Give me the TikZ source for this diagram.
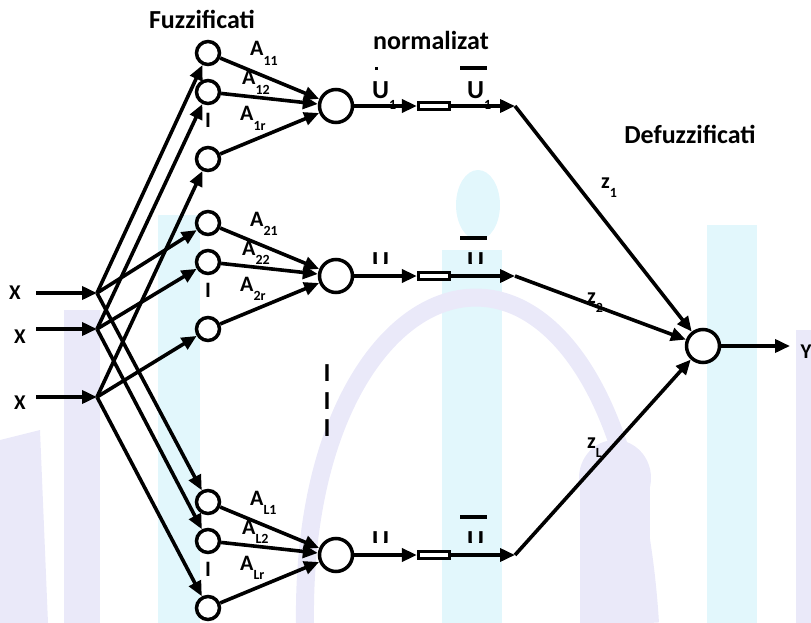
\documentclass[tikz,border=0pt]{standalone}
\usepackage{fontspec}
\setmainfont{Carlito}
\usetikzlibrary{arrows.meta}
\definecolor{wmcyan}{HTML}{E2F7FC}
\definecolor{wmlilac}{HTML}{EAE9F9}
% letter with a low, small index
\newcommand{\lowsub}[3][0.42em]{#2\raisebox{-#1}{\fontsize{14}{14}\selectfont #3}}
\tikzset{
  arr/.style={line width=3.6pt, -{Triangle[length=15pt,width=13pt]}},
  fuzzy/.style={circle, draw, line width=3.5pt, fill=white, minimum size=23pt, inner sep=0pt},
  prodnode/.style={circle, draw, line width=3.5pt, fill=white, minimum size=33pt, inner sep=0pt},
  normbox/.style={rectangle, draw, line width=3.2pt, fill=white, minimum width=31pt, minimum height=7pt, inner sep=0pt},
  heading/.style={font=\fontsize{26}{30}\selectfont\bfseries, inner sep=0pt},
  wlabel/.style={font=\fontsize{22}{26}\selectfont\bfseries, inner sep=0pt, anchor=base west},
  ulabel/.style={font=\fontsize{26}{30}\selectfont\bfseries, inner sep=0pt, anchor=base west},
  dotsmark/.style={font=\fontsize{22}{26}\selectfont\bfseries, inner sep=0pt},
  iolabel/.style={font=\fontsize{21}{25}\selectfont\bfseries, inner sep=0pt},
}
\begin{document}
\begin{tikzpicture}[x=1pt,y=-1pt]
\useasboundingbox (0,0) rectangle (811,623);

% faint backdrop
\fill[wmlilac] (0,440) -- (40,430) -- (48,623) -- (0,623) -- cycle;
\fill[wmlilac] (64,310) rectangle (100,623);
\fill[wmcyan] (158,215) rectangle (200,623);
\fill[wmcyan] (478,205) ellipse (22pt and 35pt);
\fill[wmcyan] (442,250) rectangle (502,623);
\draw[wmlilac, line width=18pt] (305,623) .. controls (300,230) and (620,150) .. (650,623);
\fill[wmlilac] (615,478) ellipse (36pt and 38pt);
\fill[wmlilac] (580,480) rectangle (650,623);
\fill[wmcyan] (707,225) rectangle (757,623);
\fill[wmlilac] (796,330) rectangle (811,623);

% headings
\node[heading] (fuzhead) at (202,19) {Fuzzificati};
\node[heading] (normhead) at (431,40) {normalizat};
\node[heading] (defhead) at (690,134) {Defuzzificati};

% U labels of the first rule
\fill (374.5,67.5) rectangle (377.5,70.5);
\node[ulabel] (u1) at (372,99) {\lowsub[0.42em]{U}{1}};
\node[ulabel] (ubar1) at (467,99) {\lowsub[0.42em]{U}{1}};

% U labels of the other rules, cut off at the top
\foreach \y in {276,555} {
  \begin{scope}
    \clip (360,\y-32) rectangle (500,\y-13);
    \node[ulabel] at (372,\y-7) {U};
    \node[ulabel] at (467,\y-7) {U};
  \end{scope}
}

% inputs
\foreach \i/\y/\lx/\ly in {1/293/15/293, 2/329/20/337, 3/397/20/403} {
  \node[iolabel] (x\i) at (\lx,\ly) {X};
  \coordinate (in\i) at (36,\y);
  \coordinate (b\i) at (97,\y);
  \draw[arr] (in\i) -- (b\i);
}

% rules: membership nodes, product, normalisation
\foreach \g/\y/\ix in {1/106/1, 2/276/2, 3/555/L} {
  \node[fuzzy] (f\g1) at (208,\y-53) {};
  \node[fuzzy] (f\g2) at (208,\y-14) {};
  \node[fuzzy] (f\g3) at (208,\y+53) {};
  \node[dotsmark] at (208,\y+14) {I};
  \node[prodnode] (p\g) at (336,\y) {};
  \node[normbox] (n\g) at (434,\y) {};
  \coordinate (e\g) at (515,\y);
  \node[wlabel] at (250,\y-50) {\lowsub{A}{\ix1}};
  \node[wlabel] at (242,\y-21) {\lowsub{A}{\ix2}};
  \node[wlabel] at (240,\y+15) {\lowsub{A}{\ix r}};
  \draw[arr] (f\g1) -- (p\g);
  \draw[arr] (f\g2) -- (p\g);
  \draw[arr] (f\g3) -- (p\g);
  \draw[arr] (p\g) -- (n\g);
  \draw[arr] (n\g) -- (e\g);
  \draw[line width=4pt] (460,\y-38) -- (487,\y-38);
}

% every input feeds one node of each rule
\foreach \i in {1,2,3} {
  \foreach \g in {1,2,3} {
    \draw[arr] (b\i) -- (f\g\i);
  }
}

% skipped rules
\foreach \yy in {373,401,428} {
  \node[ulabel, anchor=center] at (327,\yy) {I};
}

% defuzzification
\node[prodnode] (out) at (703,346) {};
\coordinate (yend) at (790,346);
\node[iolabel] (ylab) at (806,352) {Y};
\draw[arr] (e1) -- (out);
\draw[arr] (e2) -- (out);
\draw[arr] (e3) -- (out);
\draw[arr] (out) -- (yend);
\node[wlabel] at (601,188) {\lowsub[0.45em]{z}{1}};
\node[wlabel] at (587,303) {\lowsub[0.45em]{z}{2}};
\node[wlabel] at (587,448) {\lowsub[0.45em]{z}{L}};
\end{tikzpicture}
\end{document}
